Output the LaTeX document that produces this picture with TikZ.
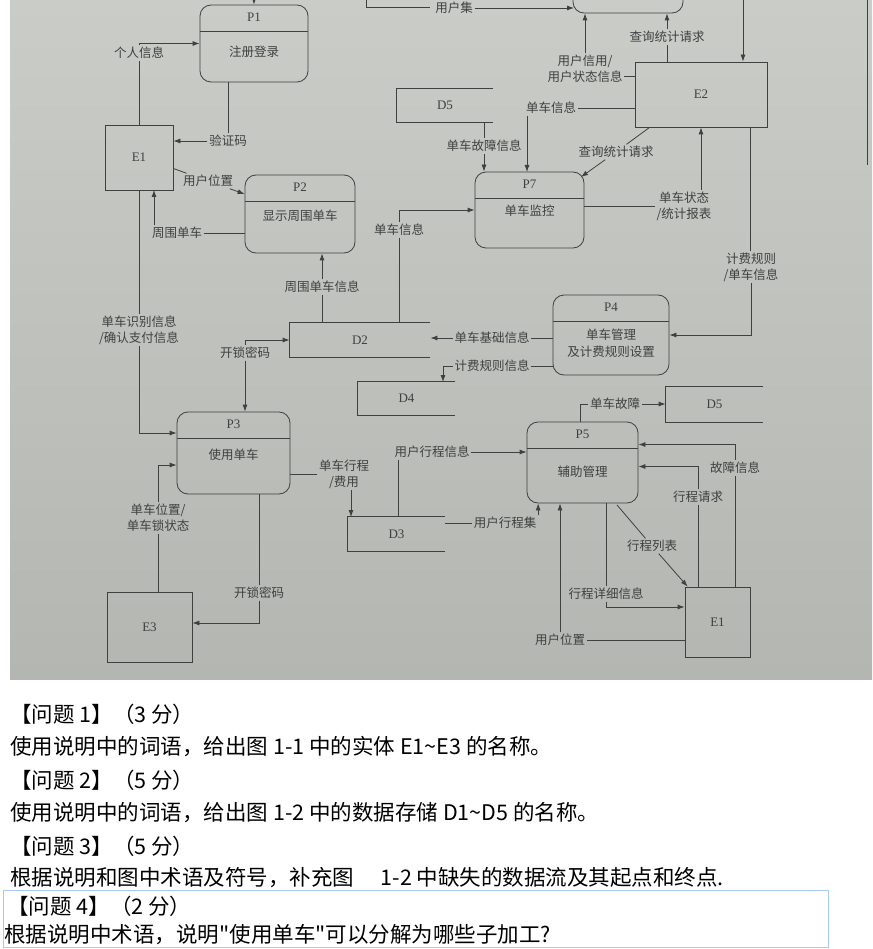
\documentclass[tikz,border=0pt]{standalone}
\usepackage{fontspec}
\setmainfont{Liberation Serif}
\newfontfamily\cjk{Noto Sans CJK SC}
\usetikzlibrary{arrows.meta,calc}
\definecolor{photobg}{HTML}{CACCC8}
\definecolor{photodark}{HTML}{B4B6B2}
\definecolor{ink}{HTML}{404040}
\definecolor{qbox}{HTML}{A9C9F2}
\begin{document}
\begin{tikzpicture}[x=1pt,y=-1pt,line width=0.8pt,color=ink,
proc/.style={draw,rounded corners=11pt,inner sep=0pt,
  path picture={\draw ([yshift=-26pt]path picture bounding box.north west) -- ([yshift=-26pt]path picture bounding box.north east);}},
ent/.style={draw,inner sep=0pt,font=\fontsize{13}{14}\selectfont},
store/.style={inner sep=0pt,font=\fontsize{13}{14}\selectfont},
pid/.style={font=\fontsize{13}{14}\selectfont},
pname/.style={font=\cjk\fontsize{12.5}{17}\selectfont,align=center},
lbl/.style={font=\cjk\fontsize{12.5}{16}\selectfont,align=center,inner sep=1.5pt},
flow/.style={-{Latex[length=7pt,width=5pt]}},
qline/.style={anchor=west,inner sep=0pt,text=black,font=\cjk\fontsize{21.5}{24}\selectfont}]
\useasboundingbox (0,0) rectangle (872,949);
\fill[white] (0,0) rectangle (872,949);
\shade[top color=photobg,bottom color=photodark] (10,0) rectangle (872,679);
\begin{scope}
\clip (10,0) rectangle (872,679);
\draw[line width=0.6pt] (867,0) -- (867,165);
% processes
\node[proc,minimum width=108pt,minimum height=77pt] (P1) at (254,43.5) {};
\node[proc,minimum width=110pt,minimum height=78pt] (P2) at (300,214) {};
\node[proc,minimum width=113pt,minimum height=82pt] (P3) at (233.5,453) {};
\node[proc,minimum width=116pt,minimum height=80pt] (P4) at (611,335) {};
\node[proc,minimum width=111pt,minimum height=81pt] (P5) at (582.5,462.5) {};
\node[proc,minimum width=110pt,minimum height=76pt] (P6) at (628,-25) {};
\node[proc,minimum width=109pt,minimum height=76pt] (P7) at (529.5,210) {};
\foreach \p in {P1,P2,P3,P4,P5,P7}
  \node[pid] at ([yshift=-13pt]\p.north) {\p};
\node[pname] at ([yshift=-47pt]P1.north) {注册登录};
\node[pname] at ([yshift=-41pt]P2.north) {显示周围单车};
\node[pname] at ([yshift=-43pt]P3.north) {使用单车};
\node[pname] at ([yshift=-49pt]P4.north) {单车管理\\及计费规则设置};
\node[pname] at ([yshift=-50pt]P5.north) {辅助管理};
\node[pname] at ([yshift=-39pt]P7.north) {单车监控};
% entities
\node[ent,minimum width=68pt,minimum height=65pt] (E1) at (139,157.5) {E1};
\node[ent,minimum width=132pt,minimum height=65pt] (E2) at (701,94.5) {E2};
\node[ent,minimum width=85pt,minimum height=70pt] (E3) at (149.5,627) {E3};
\node[ent,minimum width=65pt,minimum height=70pt] (E1b) at (717.5,622) {E1};
% data stores
\node[store,minimum width=63pt,minimum height=34pt] (D1) at (398.5,-10) {};
\node[store,minimum width=96pt,minimum height=33pt] (D5a) at (445,105.5) {D5};
\node[store,minimum width=140pt,minimum height=34pt] (D2) at (360,340) {D2};
\node[store,minimum width=97pt,minimum height=33pt] (D4) at (406.5,398.5) {D4};
\node[store,minimum width=97pt,minimum height=34pt] (D3) at (396.5,534) {D3};
\node[store,minimum width=97pt,minimum height=35pt] (D5b) at (714.5,404.5) {D5};
\foreach \s in {D1,D5a,D2,D4,D3,D5b}
  \draw (\s.north east) -- (\s.north west) -- (\s.south west) -- (\s.south east);
% flow labels
\node[lbl] (l1) at (139,53) {个人信息};
\node[lbl] (l2) at (228,141) {验证码};
\node[lbl] (l3) at (208,181) {用户位置};
\node[lbl] (l4) at (177,233) {周围单车};
\node[lbl] (l5) at (139,330) {单车识别信息\\/确认支付信息};
\node[lbl] (l6) at (322,287) {周围单车信息};
\node[lbl] (l7) at (399,230) {单车信息};
\node[lbl] (l8) at (245,353) {开锁密码};
\node[lbl] (l9) at (344,474) {单车行程\\/费用};
\node[lbl] (l10) at (432,452) {用户行程信息};
\node[lbl] (l11) at (505,523) {用户行程集};
\node[lbl] (l12) at (158,518) {单车位置/\\单车锁状态};
\node[lbl] (l13) at (259,593) {开锁密码};
\node[lbl] (l14) at (492,338) {单车基础信息};
\node[lbl] (l15) at (492,366) {计费规则信息};
\node[lbl] (l16) at (751,267) {计费规则\\/单车信息};
\node[lbl] (l17) at (684,206) {单车状态\\/统计报表};
\node[lbl] (l18) at (616,152) {查询统计请求};
\node[lbl] (l19) at (551,108) {单车信息};
\node[lbl] (l20) at (484,146) {单车故障信息};
\node[lbl] (l21) at (585,69) {用户信用/\\用户状态信息};
\node[lbl] (l22) at (667,37) {查询统计请求};
\node[lbl] (l23) at (454,8) {用户集};
\node[lbl] (l26) at (615,404) {单车故障};
\node[lbl] (l27) at (735,468) {故障信息};
\node[lbl] (l28) at (698,497) {行程请求};
\node[lbl] (l29) at (652,546) {行程列表};
\node[lbl] (l30) at (606,594) {行程详细信息};
\node[lbl] (l31) at (560,640) {用户位置};
\coordinate (p1t) at (254,-5);
\coordinate (e2t) at (743,-5);
\coordinate (p6a) at (574,8);
\coordinate (e1a) at (154,190);
\coordinate (d3a) at (398,517);
\coordinate (d3b) at (351,517);
\coordinate (d4a) at (443,382);
\coordinate (e2b) at (750,127);
\coordinate (e2d) at (635,76);
\coordinate (p7a) at (527,172);
\coordinate (p7b) at (581,177);
\coordinate (p5a) at (580,422);
\coordinate (p5c) at (617,505);
% flows
\draw[flow] (p1t) -- (P1.north);
\draw[flow] (e2t) -- (e2t |- E2.north);
\draw[flow] (l23.east) -- (p6a);
\draw (E1.north) -- (l1.south);
\draw[flow] (l1.north) |- (P1.west);
\draw (l2.north) -- (l2.north |- P1.south);
\draw[flow] (l2.west) -- (l2.west -| E1.east);
\draw ([yshift=-11pt]E1.east) -- (l3);
\draw[flow] (l3) -- ([yshift=20pt]P2.west);
\draw (l4.east) -- (l4.east -| P2.west);
\draw[flow] (l4.north -| e1a) -- (e1a);
\draw (E1.south) -- (l5.north);
\draw[flow] (l5.south) |- ([yshift=20pt]P3.west);
\draw (l6.south) -- (l6.south |- D2.north);
\draw[flow] (l6.north) -- (l6.north |- P2.south);
\draw (l7.south) -- (l7.south |- D2.north);
\draw[flow] (l7.north) |- (P7.west);
\draw[flow] (l8.north) |- (D2.west);
\draw[flow] (l8.south) -- (l8.south |- P3.north);
\draw (l9.west) -- (l9.west -| P3.east);
\draw[flow] (l9.south -| d3b) -- (d3b);
\draw (d3a) -- (d3a |- l10.south);
\draw[flow] (l10.east) -- (l10.east -| P5.west);
\draw (D3.north east |- l11) -- (l11.west);
\draw[flow] (l11.north east) -- (l11.north east |- P5.south);
\draw (E3.north -| l12) -- (l12.south);
\draw[flow] (l12.north) |- ([yshift=-12pt]P3.west);
\draw (l13.north) -- (l13.north |- P3.south);
\draw[flow] (l13.south) |- ([yshift=4pt]E3.east);
\draw (l14.east) -- (l14.east -| P4.west);
\draw[flow] (l14.west) -- (l14.west -| D2.east);
\draw (l15.east) -- (l15.east -| P4.west);
\draw[flow] (l15.west) -| (d4a);
\draw (e2b) -- (e2b |- l16.north);
\draw[flow] (l16.south) |- (P4.east);
\draw (P7.east |- l17) -- (l17.west);
\draw[flow] (l17.north -| E2.south) -- (E2.south);
\draw ([xshift=15pt]E2.south west) -- (l18);
\draw[flow] (l18) -- (p7b);
\draw (E2.west |- l19) -- (l19.east);
\draw[flow] (l19.south -| p7a) -- (p7a);
\draw (D5a.south -| l20) -- (l20.north);
\draw[flow] (l20.south) -- (l20.south |- P7.north);
\draw (e2d) -- (e2d -| l21.east);
\draw[flow] (l21.north) -- (l21.north |- P6.south);
\draw (E2.north -| l22) -- (l22.south);
\draw[flow] (l22.north) -- (l22.north |- P6.south);
\draw (p5a) |- (l26.west);
\draw[flow] (l26.east) -- (l26.east -| D5b.west);
\draw (E1b.north -| l27) -- (l27.south);
\draw[flow] (l27.north) |- ([yshift=18pt]P5.east);
\draw (E1b.north -| l28) -- (l28.south);
\draw[flow] (l28.north) |- ([yshift=-4pt]P5.east);
\draw (p5c) -- (l29);
\draw[flow] (l29) -- ([xshift=3pt]E1b.north west);
\draw (P5.south -| l30) -- (l30.north);
\draw[flow] (l30.south) |- ([yshift=15pt]E1b.west);
\draw ([yshift=-18pt]E1b.west) -- (l31.east);
\draw[flow] (l31.north) -- (l31.north |- P5.south);
\end{scope}
% questions
\node[qline] (q1) at (10,714) {【问题 1】（3 分）};
\node[qline] (q2) at (10,747) {使用说明中的词语，给出图 1-1 中的实体 E1\textasciitilde E3 的名称。};
\node[qline] (q3) at (10,780) {【问题 2】（5 分）};
\node[qline] (q4) at (10,813) {使用说明中的词语，给出图 1-2 中的数据存储 D1\textasciitilde D5 的名称。};
\node[qline] (q5) at (10,846) {【问题 3】（5 分）};
\node[qline] (q6) at (10,878) {根据说明和图中术语及符号，补充图\quad\ 1-2 中缺失的数据流及其起点和终点.};
\node[draw=qbox,line width=1pt,anchor=north west,minimum width=825pt,minimum height=57pt] (qb) at (3,890) {};
\node[qline] (q7) at (7,906) {【问题 4】（2 分）};
\node[qline] (q8) at (4,935) {根据说明中术语，说明"使用单车"可以分解为哪些子加工?};
\end{tikzpicture}
\end{document}
